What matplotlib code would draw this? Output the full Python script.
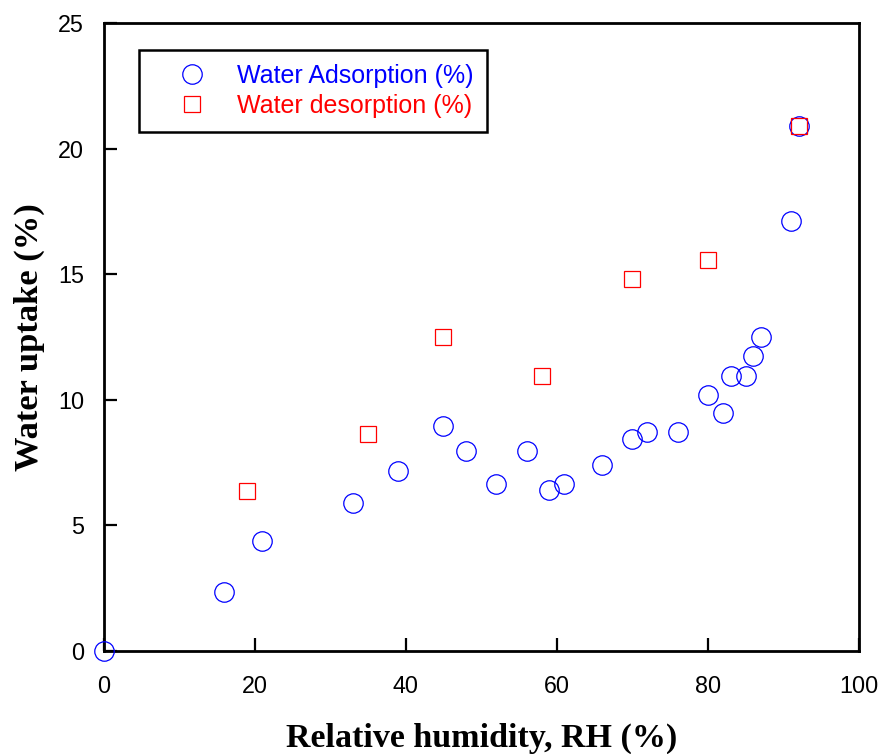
import matplotlib
matplotlib.use("Agg")
import matplotlib.pyplot as plt
from matplotlib.lines import Line2D

# Water sorption isotherm data
rh_adsorption = [0, 16, 21, 33, 39, 45, 48, 52, 56, 59, 61, 66, 70, 72, 76,
                 80, 82, 83, 85, 86, 87, 91, 92]
uptake_adsorption = [0, 2.33, 4.35, 5.9, 7.15, 8.95, 7.95, 6.65, 7.95, 6.4, 6.65,
                     7.4, 8.45, 8.7, 8.7, 10.2, 9.45, 10.95, 10.95, 11.75, 12.5,
                     17.1, 20.9]

rh_desorption = [19, 35, 45, 58, 70, 80, 92]
uptake_desorption = [6.35, 8.65, 12.5, 10.95, 14.8, 15.55, 20.9]

x_ticks = [0, 20, 40, 60, 80, 100]
y_ticks = [0, 5, 10, 15, 20, 25]

label_ads = "Water Adsorption (%)"
label_des = "Water desorption (%)"

fig = plt.figure(figsize=(8.85, 7.54), dpi=100)
ax = fig.add_axes([0.117, 0.137, 0.8536, 0.8325])

ax.plot(rh_adsorption, uptake_adsorption, linestyle="none", marker="o",
        markersize=14, markerfacecolor="none", markeredgecolor="#0000ff",
        markeredgewidth=0.9, clip_on=False, zorder=3)
ax.plot(rh_desorption, uptake_desorption, linestyle="none", marker="s",
        markersize=12, markerfacecolor="none", markeredgecolor="#ff0000",
        markeredgewidth=0.9, clip_on=False, zorder=3)

ax.set_xlim(0, 100)
ax.set_ylim(0, 25)
ax.set_xticks(x_ticks)
ax.set_yticks(y_ticks)

for sp in ax.spines.values():
    sp.set_linewidth(2.0)

ax.tick_params(direction="in", length=9.5, width=1.6, labelsize=16.8,
               top=False, right=False)
ax.tick_params(axis="y", pad=14)
ax.tick_params(axis="x", pad=17.5)
for lab in ax.get_xticklabels() + ax.get_yticklabels():
    lab.set_fontfamily("Liberation Sans")

ax.set_xlabel("Relative humidity, RH (%)", fontfamily="Liberation Serif",
              fontweight="bold", fontsize=24.5, labelpad=18)
ax.set_ylabel("Water uptake (%)", fontfamily="Liberation Serif",
              fontweight="bold", fontsize=24.8, labelpad=9)

handles = [
    Line2D([], [], linestyle="none", marker="o", markersize=14,
           markerfacecolor="none", markeredgecolor="#0000ff", markeredgewidth=0.9),
    Line2D([], [], linestyle="none", marker="s", markersize=12,
           markerfacecolor="none", markeredgecolor="#ff0000", markeredgewidth=0.9),
]
leg = ax.legend(handles, [label_ads, label_des], loc="upper left",
                bbox_to_anchor=(0.047, 0.957), frameon=True, fancybox=False,
                edgecolor="black", framealpha=1, borderpad=0.55,
                handletextpad=0.25, handlelength=3.1, labelspacing=0.25,
                borderaxespad=0, labelcolor=["#0000ff", "#ff0000"],
                prop={"family": "Liberation Sans", "size": 18})
leg.get_frame().set_linewidth(1.8)

fig.savefig("out.png", dpi=100)
